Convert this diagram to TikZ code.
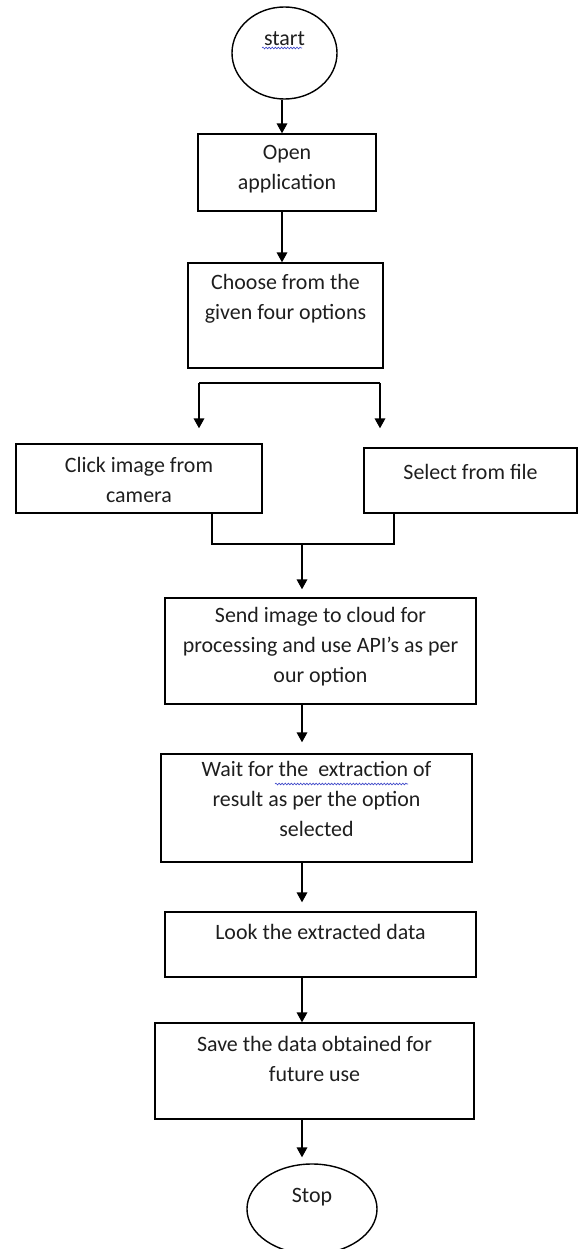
\documentclass[tikz,border=0pt]{standalone}
\usepackage{fontspec}
\setmainfont{Carlito}
\usepackage{tikz}
\usetikzlibrary{shapes.geometric, arrows.meta, positioning, decorations.pathmorphing}
\definecolor{inkgray}{RGB}{30, 30, 30}
\definecolor{spellblue}{RGB}{60, 70, 200}

\begin{document}
\begin{tikzpicture}[x=0.025cm, y=-0.025cm,
    box/.style={draw, line width=1pt, inner sep=0pt},
    txt/.style={inner sep=0pt, align=center, text=inkgray, font=\fontsize{15.6}{21.2}\selectfont, execute at begin node=\strut},
    arr/.style={-{Triangle[width=7.5pt, length=7pt]}, line width=1pt},
    wavy/.style={spellblue, line width=0.45pt, decorate, decoration={snake, segment length=2.2pt, amplitude=0.6pt}}]
  \useasboundingbox (0,0) rectangle (578,1249);

  % steps
  \node[box, ellipse, minimum width=2.625cm, minimum height=2.3cm] (start) at (284.5,53) {};
  \node[txt, below=0.45cm of start.north] (starttxt) {start};

  \node[box, minimum width=4.45cm, minimum height=1.925cm] (open) at (287,172.5) {};
  \node[txt, below=0.3cm of open.north] (opentxt) {Open\\application};

  \node[box, minimum width=4.875cm, minimum height=2.625cm] (choose) at (285.5,315.5) {};
  \node[txt, below=0.3cm of choose.north] (choosetxt) {Choose from the\\given four options};

  \node[box, minimum width=6.15cm, minimum height=1.725cm] (click) at (139,478.5) {};
  \node[txt, below=0.35cm of click.north] (clicktxt) {Click image from\\camera};

  \node[box, minimum width=5.325cm, minimum height=1.625cm] (select) at (470.5,480.5) {};
  \node[txt, below=0.275cm of select.north] (selecttxt) {Select from file};

  \node[box, minimum width=7.775cm, minimum height=2.65cm] (send) at (320.5,651) {};
  \node[txt, below=0.25cm of send.north] (sendtxt) {Send image to cloud for\\processing and use API’s as per\\our option};

  \node[box, minimum width=7.775cm, minimum height=2.7cm] (wait) at (316.5,808) {};
  \node[txt, below=0.2cm of wait.north] (waittxt) {Wait for the\ \ extraction of\\result as per the option\\selected};

  \node[box, minimum width=7.775cm, minimum height=1.625cm] (look) at (320.5,944.5) {};
  \node[txt, below=0.175cm of look.north] (looktxt) {Look the extracted data};

  \node[box, minimum width=7.975cm, minimum height=2.4cm] (save) at (314.5,1071) {};
  \node[txt, below=0.35cm of save.north] (savetxt) {Save the data obtained for\\future use};

  \node[box, ellipse, minimum width=3.25cm, minimum height=2.25cm] (stop) at (312,1209) {};
  \node[txt, below=0.45cm of stop.north] (stoptxt) {Stop};

  % spelling marks
  \draw[wavy] (262,48) -- (302,48);
  \draw[wavy] (275,784) -- (408,784);

  % connectors
  \coordinate (colA) at (282,0);
  \coordinate (colB) at (302,0);
  \coordinate (sl) at (199,383);
  \coordinate (sr) at (380,383);
  \coordinate (jl) at (212,544);
  \coordinate (jr) at (394,544);

  \draw[arr] (start.south -| colA) -- (open.north -| colA);
  \draw[arr] (open.south -| colA) -- (choose.north -| colA);
  \draw[line width=1pt] (sl) -- (sr);
  \draw[arr, shorten >=0.375cm] (sl) -- (sl |- click.north);
  \draw[arr, shorten >=0.475cm] (sr) -- (sr |- select.north);
  \draw[line width=1pt] (click.south -| jl) -- (jl) -- (jr) -- (select.south -| jr);
  \draw[arr, shorten >=0.2cm] (jl -| colB) -- (send.north -| colB);
  \draw[arr, shorten >=0.275cm] (send.south -| colB) -- (wait.north -| colB);
  \draw[arr, shorten >=0.225cm] (wait.south -| colB) -- (look.north -| colB);
  \draw[arr] (look.south -| colB) -- (save.north -| colB);
  \draw[arr, shorten >=0.15cm] (save.south -| colB) -- (stop.north -| colB);
\end{tikzpicture}
\end{document}
